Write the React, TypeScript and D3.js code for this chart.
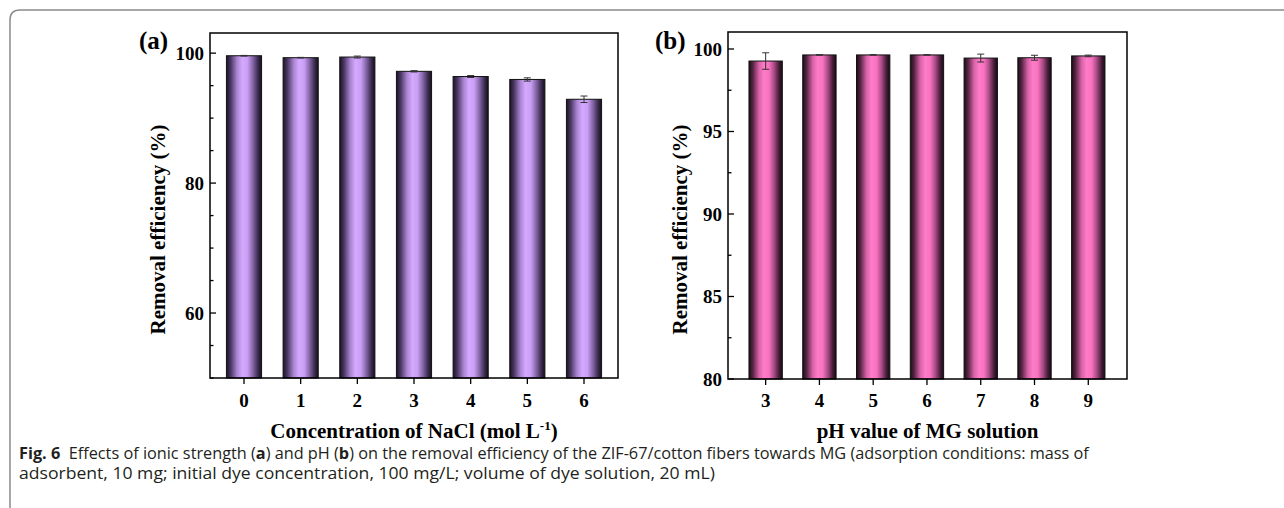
import * as d3 from "d3";
import { useEffect, useRef } from "react";

// panel (a): ionic strength
const naclConc = [0, 1, 2, 3, 4, 5, 6];
const naclEff = [99.6, 99.3, 99.4, 97.2, 96.4, 95.95, 92.9];
const naclErr = [0.05, 0.05, 0.15, 0.1, 0.15, 0.25, 0.5];

// panel (b): pH
const phValues = [3, 4, 5, 6, 7, 8, 9];
const phEff = [99.27, 99.64, 99.64, 99.64, 99.45, 99.47, 99.58];
const phErr = [0.5, 0.02, 0.02, 0.02, 0.24, 0.15, 0.05];

const yTicksA = [60, 80, 100];
const yTicksB = [80, 85, 90, 95, 100];

const W = 1284;
const H = 508;

type Panel = {
  id: string;
  tag: string;
  xs: number[];
  ys: number[];
  errs: number[];
  box: { left: number; top: number; right: number; bottom: number };
  xDomain: [number, number];
  yDomain: [number, number];
  yTicks: number[];
  minorStep: number;
  xTitle: string;
  tagX: number;
  titleX: number;
  stops: [number, string][];
};

export default function App() {
  const svgRef = useRef<SVGSVGElement | null>(null);

  useEffect(() => {
    const svg = d3.select(svgRef.current);
    svg.selectAll("*").remove();
    svg.attr("width", W).attr("height", H);

    svg.append("rect").attr("width", W).attr("height", H).attr("fill", "#fff");

    // frame
    svg
      .append("path")
      .attr("d", `M10,${H + 5} L10,20 Q10,10 20,10 L${W + 5},10`)
      .attr("fill", "none")
      .attr("stroke", "#8a8a8a")
      .attr("stroke-width", 1.5);

    const defs = svg.append("defs");
    const serif = "'Liberation Serif', 'Times New Roman', serif";

    const panels: Panel[] = [
      {
        id: "a",
        tag: "(a)",
        xs: naclConc,
        ys: naclEff,
        errs: naclErr,
        box: { left: 210, top: 33, right: 618, bottom: 378 },
        xDomain: [-0.6, 6.6],
        yDomain: [50, 103.1],
        yTicks: yTicksA,
        minorStep: 5,
        xTitle: "Concentration of NaCl (mol L",
        tagX: 139,
        titleX: 158,
        stops: [
          [0, "#1c1224"],
          [0.12, "#4a3662"],
          [0.3, "#a884d0"],
          [0.45, "#d4a9ff"],
          [0.6, "#c99ff4"],
          [0.75, "#8566a8"],
          [0.9, "#3a2b4e"],
          [1, "#160e1c"],
        ],
      },
      {
        id: "b",
        tag: "(b)",
        xs: phValues,
        ys: phEff,
        errs: phErr,
        box: { left: 728, top: 32, right: 1127, bottom: 379 },
        xDomain: [2.3, 9.72],
        yDomain: [80, 101.03],
        yTicks: yTicksB,
        minorStep: 2.5,
        xTitle: "pH value of MG solution",
        tagX: 655,
        titleX: 680,
        stops: [
          [0, "#1c0c16"],
          [0.12, "#582646"],
          [0.3, "#d862a8"],
          [0.45, "#ff7cc8"],
          [0.6, "#f872c0"],
          [0.75, "#aa4c86"],
          [0.9, "#461c38"],
          [1, "#180a12"],
        ],
      },
    ];

    panels.forEach(p => {
      const grad = defs
        .append("linearGradient")
        .attr("id", `grad-${p.id}`)
        .attr("x1", "0%")
        .attr("x2", "100%")
        .attr("y1", "0%")
        .attr("y2", "0%");
      p.stops.forEach(([o, c]) => grad.append("stop").attr("offset", o).attr("stop-color", c));

      const x = d3.scaleLinear().domain(p.xDomain).range([p.box.left, p.box.right]);
      const y = d3.scaleLinear().domain(p.yDomain).range([p.box.bottom, p.box.top]);
      const bw = x(p.xs[0] + 0.31) - x(p.xs[0] - 0.31);

      const g = svg.append("g");

      // bars
      g.selectAll("rect.bar")
        .data(p.xs)
        .enter()
        .append("rect")
        .attr("class", "bar")
        .attr("x", d => x(d) - bw / 2)
        .attr("width", bw)
        .attr("y", (_, i) => y(p.ys[i]))
        .attr("height", (_, i) => p.box.bottom - y(p.ys[i]))
        .attr("fill", `url(#grad-${p.id})`)
        .attr("stroke", "#111")
        .attr("stroke-width", 1);

      // error bars
      p.xs.forEach((d, i) => {
        const cx = x(d);
        const y1 = y(p.ys[i] + p.errs[i]);
        const y2 = y(p.ys[i] - p.errs[i]);
        const eg = g.append("g").attr("stroke", "#333").attr("stroke-width", 1);
        eg.append("line").attr("x1", cx).attr("x2", cx).attr("y1", y1).attr("y2", y2);
        eg.append("line").attr("x1", cx - 3.5).attr("x2", cx + 3.5).attr("y1", y1).attr("y2", y1);
        eg.append("line").attr("x1", cx - 3.5).attr("x2", cx + 3.5).attr("y1", y2).attr("y2", y2);
      });

      // frame of plot
      g.append("rect")
        .attr("x", p.box.left)
        .attr("y", p.box.top)
        .attr("width", p.box.right - p.box.left)
        .attr("height", p.box.bottom - p.box.top)
        .attr("fill", "none")
        .attr("stroke", "#000")
        .attr("stroke-width", 1.5);

      // y ticks, inward
      const minor = d3.range(p.yDomain[0], p.yDomain[1] + 0.001, p.minorStep)
        .filter(v => !p.yTicks.includes(v));
      g.selectAll("line.minor")
        .data(minor)
        .enter()
        .append("line")
        .attr("x1", p.box.left)
        .attr("x2", p.box.left + 3.5)
        .attr("y1", d => y(d))
        .attr("y2", d => y(d))
        .attr("stroke", "#000")
        .attr("stroke-width", 1.3);
      g.selectAll("line.major")
        .data(p.yTicks)
        .enter()
        .append("line")
        .attr("x1", p.box.left)
        .attr("x2", p.box.left + 6)
        .attr("y1", d => y(d))
        .attr("y2", d => y(d))
        .attr("stroke", "#000")
        .attr("stroke-width", 1.3);
      g.selectAll("text.ylab")
        .data(p.yTicks)
        .enter()
        .append("text")
        .attr("x", p.box.left - 6)
        .attr("y", d => y(d))
        .attr("dy", "0.35em")
        .attr("text-anchor", "end")
        .attr("font-family", serif)
        .attr("font-weight", "bold")
        .attr("font-size", 19)
        .text(d => d);

      // x ticks, outward
      g.selectAll("line.xt")
        .data(p.xs)
        .enter()
        .append("line")
        .attr("x1", d => x(d))
        .attr("x2", d => x(d))
        .attr("y1", p.box.bottom)
        .attr("y2", p.box.bottom + 6)
        .attr("stroke", "#000")
        .attr("stroke-width", 1.3);
      g.selectAll("text.xlab")
        .data(p.xs)
        .enter()
        .append("text")
        .attr("x", d => x(d))
        .attr("y", 407)
        .attr("text-anchor", "middle")
        .attr("font-family", serif)
        .attr("font-weight", "bold")
        .attr("font-size", 19)
        .text(d => d);

      // axis titles
      const xt = g.append("text")
        .attr("x", (p.box.left + p.box.right) / 2)
        .attr("y", 438)
        .attr("text-anchor", "middle")
        .attr("font-family", serif)
        .attr("font-weight", "bold")
        .attr("font-size", 21)
        .text(p.xTitle);
      if (p.id === "a") {
        xt.append("tspan").attr("font-size", 13).attr("dy", -8).text("-1");
        xt.append("tspan").attr("dy", 8).text(")");
      }

      g.append("text")
        .attr("transform", `translate(${p.titleX + 7},${(p.box.top + p.box.bottom) / 2 + 24}) rotate(-90)`)
        .attr("text-anchor", "middle")
        .attr("font-family", serif)
        .attr("font-weight", "bold")
        .attr("font-size", 21)
        .text("Removal efficiency (%)");

      g.append("text")
        .attr("x", p.tagX)
        .attr("y", 49)
        .attr("font-family", serif)
        .attr("font-weight", "bold")
        .attr("font-size", 25)
        .text(p.tag);
    });

    // caption, squeezed horizontally to the reference width
    const sans = "'Open Sans', 'Noto Sans', sans-serif";
    const fitLine = (yPos: number, width: number) => {
      const lg = svg.append("g");
      const t = lg.append("text")
        .attr("x", 0)
        .attr("y", 0)
        .attr("font-family", sans)
        .attr("font-size", 16.5)
        .attr("fill", "#231f20");
      return { lg, t, yPos, width };
    };
    const finish = (l: ReturnType<typeof fitLine>) => {
      const node = l.t.node() as SVGTextElement;
      const len = node.getComputedTextLength() || l.width;
      l.lg.attr("transform", `translate(19,${l.yPos}) scale(${l.width / len},1)`);
    };

    const line1 = fitLine(459, 1071);
    line1.t.append("tspan").attr("font-weight", "bold").text("Fig. 6");
    line1.t.append("tspan").text("\u00a0\u00a0Effects of ionic strength (");
    line1.t.append("tspan").attr("font-weight", "bold").text("a");
    line1.t.append("tspan").text(") and pH (");
    line1.t.append("tspan").attr("font-weight", "bold").text("b");
    line1.t.append("tspan").text(
      ") on the removal efficiency of the ZIF-67/cotton fibers towards MG (adsorption conditions: mass of"
    );
    finish(line1);

    const line2 = fitLine(479, 696);
    line2.t.text("adsorbent, 10 mg; initial dye concentration, 100 mg/L; volume of dye solution, 20 mL)");
    finish(line2);
  }, []);

  return (
    <div style={{ position: "absolute", left: 0, top: 0 }}>
      <svg ref={svgRef} style={{ display: "block" }} />
    </div>
  );
}
